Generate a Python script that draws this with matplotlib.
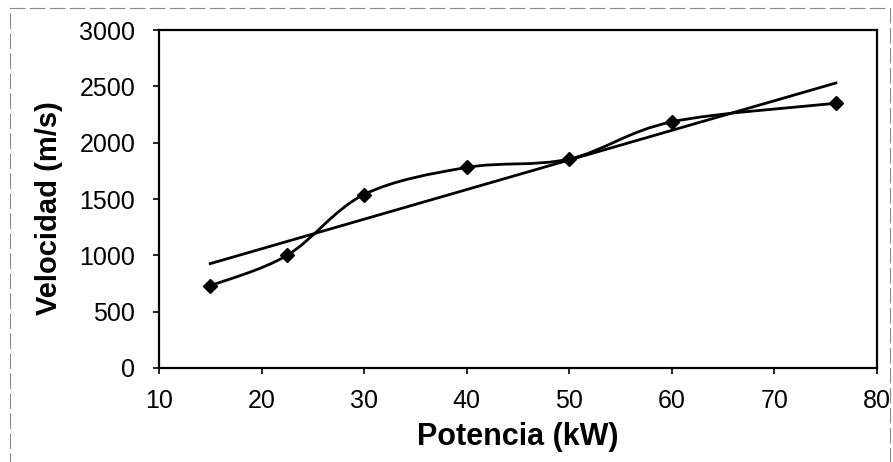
import numpy as np
import matplotlib
matplotlib.use("Agg")
import matplotlib.pyplot as plt
from matplotlib.path import Path
from matplotlib.patches import PathPatch, Rectangle

plt.rcParams['font.family'] = ['Liberation Sans', 'DejaVu Sans']

# Potencia (kW) vs. velocidad (m/s)
potencia = [15, 22.5, 30, 40, 50, 60, 76]
velocidad = [730, 1000, 1540, 1780, 1855, 2185, 2350]
x_ticks = [10, 20, 30, 40, 50, 60, 70, 80]
y_ticks = [0, 500, 1000, 1500, 2000, 2500, 3000]

fig = plt.figure(figsize=(8.93, 4.62), dpi=100)
ax = fig.add_axes([0.178, 0.2035, 0.804, 0.7315])

x = np.asarray(potencia, dtype=float)
y = np.asarray(velocidad, dtype=float)

# Smoothed connecting line (Catmull-Rom style cubic Bezier segments)
pts = np.column_stack([x, y])
ext = np.vstack([pts[0], pts, pts[-1]])
verts = [tuple(pts[0])]
codes = [Path.MOVETO]
for i in range(len(pts) - 1):
    p0, p1, p2, p3 = ext[i], ext[i + 1], ext[i + 2], ext[i + 3]
    c1 = p1 + (p2 - p0) / 6.0
    c2 = p2 - (p3 - p1) / 6.0
    verts += [tuple(c1), tuple(c2), tuple(p2)]
    codes += [Path.CURVE4] * 3
ax.add_patch(PathPatch(Path(verts, codes), fill=False, edgecolor='black',
                       linewidth=2.0, transform=ax.transData, zorder=3))

# Linear trend line
slope, intercept = np.polyfit(x, y, 1)
xt = np.array([x.min(), x.max()])
ax.plot(xt, slope * xt + intercept, color='black', linewidth=2.0, zorder=2)

# Data markers
ax.plot(x, y, linestyle='none', marker='D', markersize=7.5,
        markerfacecolor='black', markeredgecolor='black', zorder=4)

ax.set_xlim(10, 80)
ax.set_ylim(0, 3000)
ax.set_xticks(x_ticks)
ax.set_yticks(y_ticks)
ax.tick_params(axis='both', direction='out', length=4, width=1.2,
               labelsize=18, colors='black')
ax.tick_params(axis='y', pad=13)
ax.tick_params(axis='x', pad=11)
for s in ax.spines.values():
    s.set_linewidth(1.6)
    s.set_color('black')

ax.set_xlabel('Potencia (kW)', fontsize=22, fontweight='bold')
ax.set_ylabel('Velocidad (m/s)', fontsize=21, fontweight='bold')
ax.xaxis.set_label_coords(0.5, -0.16)
ax.yaxis.set_label_coords(-0.133, 0.473)

# Outer chart-area frame
fig.patches.append(Rectangle((10 / 893, -0.05), 880 / 893, 1.05 - 8 / 462,
                             transform=fig.transFigure, fill=False,
                             edgecolor='#8a8a8a', linewidth=0.8,
                             linestyle=(0, (14, 4))))

fig.savefig('out.png', dpi=100, facecolor='white')
